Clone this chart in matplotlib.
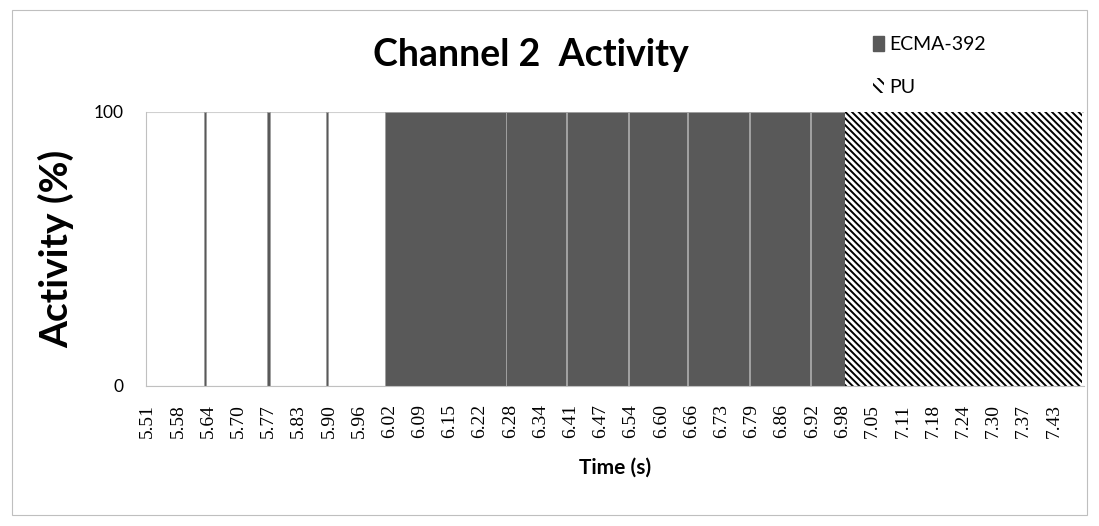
import numpy as np
import matplotlib.pyplot as plt
from matplotlib.patches import Patch, Rectangle

# tick labels on the time axis (s)
time_labels = ["5.51", "5.58", "5.64", "5.70", "5.77", "5.83", "5.90", "5.96",
               "6.02", "6.09", "6.15", "6.22", "6.28", "6.34", "6.41", "6.47",
               "6.54", "6.60", "6.66", "6.73", "6.79", "6.86", "6.92", "6.98",
               "7.05", "7.11", "7.18", "7.24", "7.30", "7.37", "7.43"]

# ECMA-392 transmissions: start / end time (s)
ecma_start = [5.630, 5.763, 5.887, 6.0136, 6.270, 6.398, 6.5306, 6.6554, 6.7855, 6.9145]
ecma_end = [5.634, 5.769, 5.891, 6.268, 6.396, 6.5286, 6.6534, 6.7835, 6.9125, 6.988]
ecma_level = [100] * len(ecma_start)

# primary user occupancy
pu_start = [6.988]
pu_end = [7.490]
pu_level = [100]

plt.rcParams['hatch.linewidth'] = 1.4

fig = plt.figure(figsize=(10.99, 5.26), dpi=100)
fig.patches.append(Rectangle((0.011, 0.021), 0.978, 0.96, transform=fig.transFigure,
                             fill=False, edgecolor='#bfbfbf', linewidth=0.8))
ax = fig.add_axes([0.1328, 0.2662, 0.8536, 0.5209])

ax.bar(ecma_start, ecma_level, width=np.subtract(ecma_end, ecma_start), align='edge',
       color='#595959', edgecolor='#a0a0a0', linewidth=0.7, label='ECMA-392', zorder=2)
ax.bar(pu_start, pu_level, width=np.subtract(pu_end, pu_start), align='edge',
       color='white', edgecolor='black', hatch='\\\\\\\\\\', linewidth=0, label='PU', zorder=2)

ax.set_xlim(5.506, 7.494)
ax.set_ylim(0, 100)
ax.set_yticks([0, 100])
ax.set_yticklabels(['0', '100'], family='Lato', fontsize=12.5)
ax.tick_params(axis='y', length=0, pad=16)
ax.grid(axis='y', color='#d0d0d0', linewidth=0.8, zorder=0)

tick_pos = np.linspace(float(time_labels[0]), float(time_labels[-1]), len(time_labels))
ax.set_xticks(tick_pos)
ax.set_xticklabels(time_labels, rotation=90, family='Liberation Serif', fontsize=14)
ax.tick_params(axis='x', length=0, pad=13)

for side in ['top', 'right']:
    ax.spines[side].set_visible(False)
for side in ['left', 'bottom']:
    ax.spines[side].set_color('#c0c0c0')
    ax.spines[side].set_linewidth(0.8)

fig.text(0.483, 0.895, 'Channel 2  Activity', ha='center', va='center',
         family='Lato', fontweight='bold', fontsize=27)
ax.set_ylabel('Activity (%)', family='Lato', fontweight='bold', fontsize=28, labelpad=14)
ax.set_xlabel('Time (s)', family='Lato', fontweight='bold', fontsize=15, labelpad=14)

handles = [Patch(facecolor='#595959', edgecolor='#595959', label='ECMA-392'),
           Patch(facecolor='white', edgecolor='black', hatch='\\\\\\', linewidth=0, label='PU')]
fig.legend(handles=handles, loc='upper left', bbox_to_anchor=(0.778, 0.965), frameon=False,
           handlelength=0.6, handleheight=0.8, handletextpad=0.25, labelspacing=1.3,
           prop={'family': 'Lato', 'size': 14})

fig.savefig('out.png', dpi=100)
